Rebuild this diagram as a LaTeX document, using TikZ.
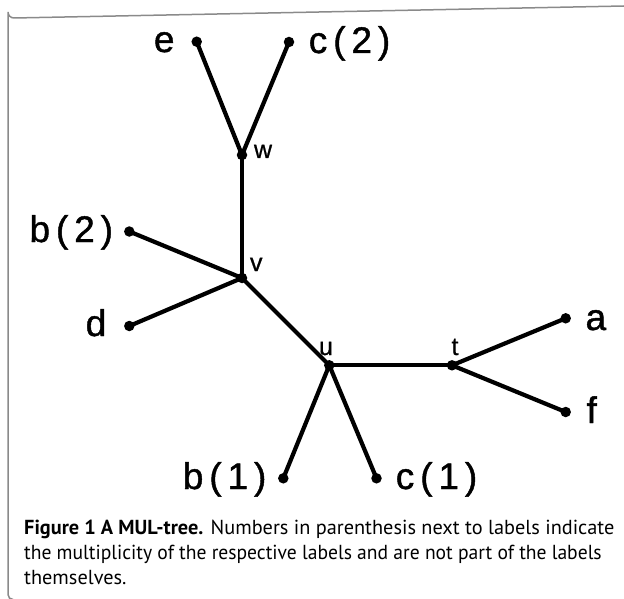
\documentclass[tikz,border=0pt]{standalone}
\usepackage{fontspec}
\setmainfont{Liberation Sans}
\newfontfamily\lblfont[LetterSpace=16,FakeBold=1.2]{Liberation Sans}
\newfontfamily\intfont[FakeBold=0.8]{Liberation Sans}
\newfontfamily\capfont{PT Sans}
\usetikzlibrary{backgrounds}
\tikzset{
  dot/.style={circle, fill=black, draw=none, minimum size=10.5pt, inner sep=0pt},
  edge/.style={line width=4.2pt, black},
  leaflbl/.style={inner sep=0pt, anchor=base west, font=\fontsize{37}{40}\lblfont},
  intlbl/.style={inner sep=0pt, anchor=base west, font=\fontsize{25}{28}\intfont},
  caplbl/.style={inner sep=0pt, anchor=base west, font=\fontsize{20.3}{25}\capfont},
  frame/.style={line width=1.5pt, draw={rgb,255:red,138;green,138;blue,138}}
}
\begin{document}
\begin{tikzpicture}[x=1pt,y=-1pt]
\useasboundingbox (0,0) rectangle (624,599);
\draw[frame] (13,599.5) arc[start angle=90, end angle=180, radius=5] -- (8,12) arc[start angle=180, end angle=90, radius=6] -- (624,6);
% dots
\node[dot] (e) at (196.7,41.7) {};
\node[dot] (c2) at (289,42) {};
\node[dot] (w) at (242,155) {};
\node[dot] (v) at (242,278) {};
\node[dot] (b2) at (129.3,231.5) {};
\node[dot] (d) at (129.3,326) {};
\node[dot] (u) at (329.3,365.3) {};
\node[dot] (t) at (452,365.3) {};
\node[dot] (a) at (565.7,318.3) {};
\node[dot] (f) at (565.7,412) {};
\node[dot] (b1) at (283.3,478.3) {};
\node[dot] (c1) at (376.5,478.3) {};
\begin{pgfonlayer}{background}
\draw[edge] (w.center) -- (e.center);
\draw[edge] (w.center) -- (c2.center);
\draw[edge] (w.center) -- (v.center);
\draw[edge] (v.center) -- (b2.center);
\draw[edge] (v.center) -- (d.center);
\draw[edge] (v.center) -- (u.center);
\draw[edge] (u.center) -- (t.center);
\draw[edge] (u.center) -- (b1.center);
\draw[edge] (u.center) -- (c1.center);
\draw[edge] (t.center) -- (a.center);
\draw[edge] (t.center) -- (f.center);
\end{pgfonlayer}
% leaf labels
\node[leaflbl] (le) at (153.7,52) {e};
\node[leaflbl] (lc2) at (308.6,53) {c(2)};
\node[leaflbl] (lb2) at (29.3,242) {b(2)};
\node[leaflbl] (ld) at (85.5,336) {d};
\node[leaflbl] (la) at (585.4,330) {a};
\node[leaflbl] (lf) at (586.4,423) {f};
\node[leaflbl] (lb1) at (182.6,489) {b(1)};
\node[leaflbl] (lc1) at (395.6,489) {c(1)};
% internal labels
\node[intlbl] (lw) at (253.8,158) {w};
\node[intlbl] (lv) at (249.8,271) {v};
\node[intlbl] (lu) at (318.8,355) {u};
\node[intlbl] (lt) at (451.3,355) {t};
% caption
\node[caplbl] (cap1) at (24,534) {\textbf{Figure 1 A MUL-tree.} Numbers in parenthesis next to labels indicate};
\node[caplbl] (cap2) at (24,559) {\scalebox{0.965}[1]{the multiplicity of the respective labels and are not part of the labels}};
\node[caplbl] (cap3) at (24,584) {themselves.};
\end{tikzpicture}
\end{document}
